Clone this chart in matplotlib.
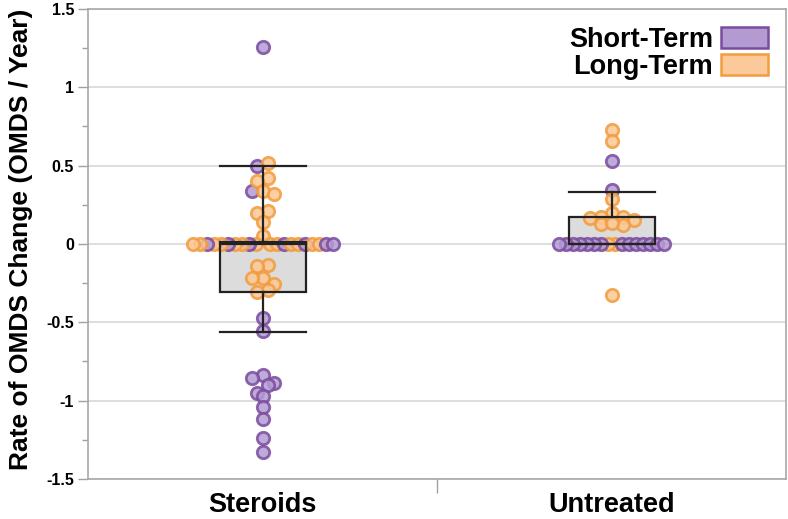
import numpy as np
import matplotlib.pyplot as plt
from collections import deque
from matplotlib.patches import Rectangle, Patch
from matplotlib.ticker import MultipleLocator, FuncFormatter

plt.rcParams['font.family'] = ['Liberation Sans', 'DejaVu Sans']

# データ
groups = ["Steroids", "Untreated"]

steroids_short = [1.255, 0.50, 0.338, 0, 0, 0, 0, 0, 0, 0,
                  -0.47, -0.555, -0.836, -0.857, -0.889, -0.90, -0.949, -0.97,
                  -1.042, -1.119, -1.236, -1.325]
steroids_long = [0.52, 0.423, 0.40, 0.34, 0.317, 0.2125, 0.20, 0.142, 0.05,
                 0, 0, 0, 0, 0, 0, 0, 0, 0, 0, 0, 0, 0,
                 -0.134, -0.14, -0.215, -0.215, -0.257, -0.294, -0.308]

untreated_short = [0.53, 0.345, 0, 0, 0, 0, 0, 0, 0, 0, 0, 0, 0, 0, 0, 0]
untreated_long = [0.73, 0.655, 0.285, 0.20, 0.175, 0.165, 0.17, 0.155, 0.13,
                  0.12, 0.135, 0, 0, -0.325]

# 箱ひげ (下ひげ, Q1, 中央値, Q3, 上ひげ)
whisker_lo = [-0.56, 0.0]
q1 = [-0.305, 0.0]
median = [0.0, 0.0]
q3 = [0.015, 0.17]
whisker_hi = [0.50, 0.335]

PURPLE_FACE = "#b49cd4"
PURPLE_EDGE = "#7a4c9e"
ORANGE_FACE = "#fcc896"
ORANGE_EDGE = "#f29c3e"

W, H = 788, 519
fig = plt.figure(figsize=(W/100, H/100), dpi=100)
ax = fig.add_axes([88/W, 1-479/H, (786-88)/W, (479-9)/H])
ax.set_xlim(0, 2)
ax.set_ylim(-1.5, 1.5)

# ピクセル換算
px_x = (786-88)/2      # px per x unit
px_y = (479-9)/3       # px per y unit


def row_layout(vals, h=9.0):
    # 近い値を行にまとめて、行ごとに左右対称に並べる
    n = len(vals)
    offs = np.zeros(n)
    idx = sorted(range(n), key=lambda j: -vals[j])
    rows = []
    cur = [idx[0]]
    for j in idx[1:]:
        if (vals[cur[0]] - vals[j])*px_y < h:
            cur.append(j)
        else:
            rows.append(cur)
            cur = [j]
    rows.append(cur)
    for row in rows:
        m = len(row)
        s = 7.0 if m > 6 else 11.0
        arr = deque()
        for k, j in enumerate(row):
            if k % 2 == 0:
                arr.append(j)
            else:
                arr.appendleft(j)
        for pos, j in enumerate(arr):
            offs[j] = (pos - (m-1)/2)*s
    return offs/px_x


series = [(steroids_short, steroids_long), (untreated_short, untreated_long)]
centers = [0.5, 1.5]
half = 43/px_x
LINE = "#222222"

for i, (s_vals, l_vals) in enumerate(series):
    c = centers[i]
    # 箱の塗り
    ax.add_patch(Rectangle((c-half, q1[i]), 2*half, q3[i]-q1[i],
                           facecolor="#dcdcdc", edgecolor="none", zorder=2))
    # ゼロの点は色を混ぜる
    nz_s = [v for v in s_vals if v != 0]
    nz_l = [v for v in l_vals if v != 0]
    zs = [v for v in s_vals if v == 0]
    zl = [v for v in l_vals if v == 0]
    vals = nz_s + nz_l
    cols = ["s"]*len(nz_s) + ["l"]*len(nz_l)
    while zs or zl:
        for _ in range(2):
            if zl:
                vals.append(zl.pop())
                cols.append("l")
        if zs:
            vals.append(zs.pop())
            cols.append("s")
    offs = row_layout(vals)
    for v, cc, o in zip(vals, cols, offs):
        fc = PURPLE_FACE if cc == "s" else ORANGE_FACE
        ec = PURPLE_EDGE if cc == "s" else ORANGE_EDGE
        ax.scatter(c+o, v, s=80, facecolor=fc, edgecolor=ec, linewidths=2.0,
                   alpha=0.85, zorder=3)
    # 箱の枠とひげ
    ax.add_patch(Rectangle((c-half, q1[i]), 2*half, q3[i]-q1[i],
                           facecolor="none", edgecolor=LINE, lw=1.6, zorder=4))
    ax.plot([c-half, c+half], [median[i]]*2, color=LINE, lw=1.6, zorder=4)
    ax.plot([c, c], [q3[i], whisker_hi[i]], color=LINE, lw=1.6, zorder=4)
    ax.plot([c, c], [q1[i], whisker_lo[i]], color=LINE, lw=1.6, zorder=4)
    ax.plot([c-half, c+half], [whisker_hi[i]]*2, color=LINE, lw=1.6, zorder=4)
    if whisker_lo[i] != q1[i]:
        ax.plot([c-half, c+half], [whisker_lo[i]]*2, color=LINE, lw=1.6, zorder=4)

# 軸
ax.yaxis.set_major_locator(MultipleLocator(0.5))
ax.yaxis.set_minor_locator(MultipleLocator(0.25))
ax.yaxis.set_major_formatter(FuncFormatter(lambda v, p: f"{v:g}"))
ax.grid(axis="y", which="major", color="#d8d8d8", lw=1.2, zorder=0)
ax.set_axisbelow(True)
ax.tick_params(axis="y", which="major", length=7, color="#a0a0a0", width=1,
               labelsize=11.5, pad=3)
ax.tick_params(axis="y", which="minor", length=4, color="#a0a0a0", width=1)
for lab in ax.get_yticklabels():
    lab.set_fontweight("bold")

ax.set_xticks([1.0], minor=False)
ax.set_xticklabels([""])
ax.set_xticks(centers, minor=True)
ax.set_xticklabels(groups, minor=True, fontsize=19.5, fontweight="bold")
ax.tick_params(axis="x", which="major", length=10, color="#a0a0a0", width=1)
ax.tick_params(axis="x", which="minor", length=0, pad=9)

for sp in ax.spines.values():
    sp.set_color("#a8a8a8")
    sp.set_linewidth(1.2)

ax.set_ylabel("Rate of OMDS Change (OMDS / Year)", fontsize=19,
              fontweight="bold")
ax.yaxis.set_label_coords(-0.079, 0.51)

handles = [Patch(facecolor="#b39ad0", edgecolor="#7a4c9e", lw=1.8, label="Short-Term"),
           Patch(facecolor="#fcc99a", edgecolor="#f29c3e", lw=1.8, label="Long-Term")]
leg = ax.legend(handles=handles, loc="upper right", frameon=False,
                markerfirst=False, prop={"weight": "bold", "size": 19.5},
                handlelength=1.75, handleheight=0.8, handletextpad=0.3,
                labelspacing=0.05, borderaxespad=0.25)

fig.savefig("out.png", dpi=100)
